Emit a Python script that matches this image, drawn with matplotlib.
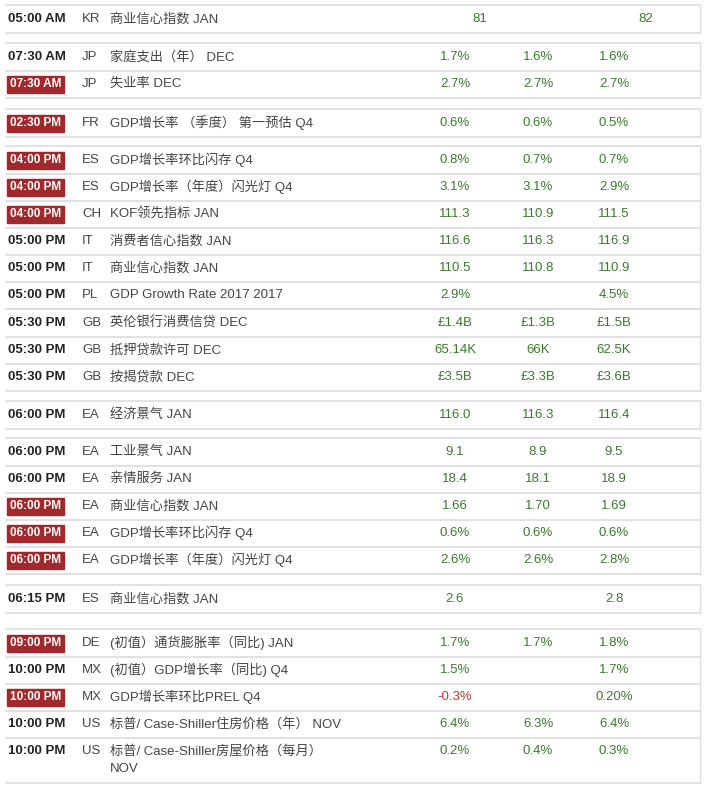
import matplotlib
matplotlib.use("Agg")
import matplotlib.pyplot as plt
from matplotlib.patches import Rectangle

plt.rcParams['font.family'] = ['Noto Sans CJK SC', 'DejaVu Sans']

times = ["05:00 AM","07:30 AM","07:30 AM","02:30 PM","04:00 PM","04:00 PM","04:00 PM","05:00 PM","05:00 PM","05:00 PM",
         "05:30 PM","05:30 PM","05:30 PM","06:00 PM","06:00 PM","06:00 PM","06:00 PM","06:00 PM","06:00 PM","06:15 PM",
         "09:00 PM","10:00 PM","10:00 PM","10:00 PM","10:00 PM"]
highlight = [0,0,1,1,1,1,1,0,0,0, 0,0,0,0,0,0,1,1,1,0, 1,0,1,0,0]
countries = ["KR","JP","JP","FR","ES","ES","CH","IT","IT","PL","GB","GB","GB","EA","EA","EA","EA","EA","EA","ES",
             "DE","MX","MX","US","US"]
events = ["商业信心指数 JAN","家庭支出（年） DEC","失业率 DEC","GDP增长率 （季度） 第一预估 Q4","GDP增长率环比闪存 Q4",
          "GDP增长率（年度）闪光灯 Q4","KOF领先指标 JAN","消费者信心指数 JAN","商业信心指数 JAN","GDP Growth Rate 2017 2017",
          "英伦银行消费信贷 DEC","抵押贷款许可 DEC","按揭贷款 DEC","经济景气 JAN","工业景气 JAN","亲情服务 JAN","商业信心指数 JAN",
          "GDP增长率环比闪存 Q4","GDP增长率（年度）闪光灯 Q4","商业信心指数 JAN","(初值）通货膨胀率（同比) JAN",
          "(初值）GDP增长率（同比) Q4","GDP增长率环比PREL Q4","标普/ Case-Shiller住房价格（年） NOV","标普/ Case-Shiller房屋价格（每月）\nNOV"]
actual = ["81","1.7%","2.7%","0.6%","0.8%","3.1%","111.3","116.6","110.5","2.9%","£1.4B","65.14K","£3.5B","116.0","9.1","18.4",
          "1.66","0.6%","2.6%","2.6","1.7%","1.5%","-0.3%","6.4%","0.2%"]
forecast = ["","1.6%","2.7%","0.6%","0.7%","3.1%","110.9","116.3","110.8","","£1.3B","66K","£3.3B","116.3","8.9","18.1",
            "1.70","0.6%","2.6%","","1.7%","","","6.3%","0.4%"]
previous = ["82","1.6%","2.7%","0.5%","0.7%","2.9%","111.5","116.9","110.9","4.5%","£1.5B","62.5K","£3.6B","116.4","9.5","18.9",
            "1.69","0.6%","2.8%","2.8","1.8%","1.7%","0.20%","6.4%","0.3%"]

ys = [19,57,84,123,160,187,214,241,268,295,323,350,377,415,452,479,506,533,560,599,643,670,697,724,751]
groups = [(0,0),(1,2),(3,3),(4,9),(10,12),(13,13),(14,18),(19,19),(20,24)]

fig = plt.figure(figsize=(7.06,7.86), dpi=100)
ax = fig.add_axes([0,0,1,1])
ax.set_xlim(0,706); ax.set_ylim(786,0); ax.axis('off')
lc = '#dcdcdc'
for a,b in groups:
    top = ys[a]-14
    bot = ys[b]+14 + (18 if b == 24 else 0)
    ax.plot([6,700],[top,top],color=lc,lw=1.2)
    for i in range(a,b+1):
        yb = ys[i]+14 + (18 if i == 24 else 0)
        ax.plot([6,700],[yb,yb],color=lc,lw=1.2)
    ax.plot([700,700],[top,bot],color=lc,lw=1.0)

lat = ['Liberation Sans','Noto Sans CJK SC']
for i,y in enumerate(ys):
    if highlight[i]:
        ax.add_patch(Rectangle((7,y-8.5),57,17,color='#a3282b'))
        ax.text(35.5,y,times[i],color='white',fontsize=8.5,fontweight='bold',ha='center',va='center',family=lat)
    else:
        ax.text(8,y,times[i],color='#222222',fontsize=9.5,fontweight='bold',ha='left',va='center',family=lat)
    ax.text(82,y,countries[i],color='#444444',fontsize=9.5,ha='left',va='center',family=lat)
    if i == 24:
        ax.text(110,y,"标普/ Case-Shiller房屋价格（每月）",color='#444444',fontsize=9.5,ha='left',va='center',family=lat)
        ax.text(110,y+18,"NOV",color='#444444',fontsize=9.5,ha='left',va='center',family=lat)
    else:
        ax.text(110,y,events[i],color='#444444',fontsize=9.5,ha='left',va='center',family=lat)
    col = '#3b7a2e'
    if i == 0:
        ax.text(480,y,actual[i],color=col,fontsize=9.5,ha='center',va='center',family=lat)
        ax.text(646,y,previous[i],color=col,fontsize=9.5,ha='center',va='center',family=lat)
        continue
    ax.text(455,y,actual[i],color=('#c0392b' if actual[i].startswith('-') else col),fontsize=9.5,ha='center',va='center',family=lat)
    ax.text(538,y,forecast[i],color=col,fontsize=9.5,ha='center',va='center',family=lat)
    ax.text(614,y,previous[i],color=col,fontsize=9.5,ha='center',va='center',family=lat)

fig.savefig('out.png', dpi=100)
